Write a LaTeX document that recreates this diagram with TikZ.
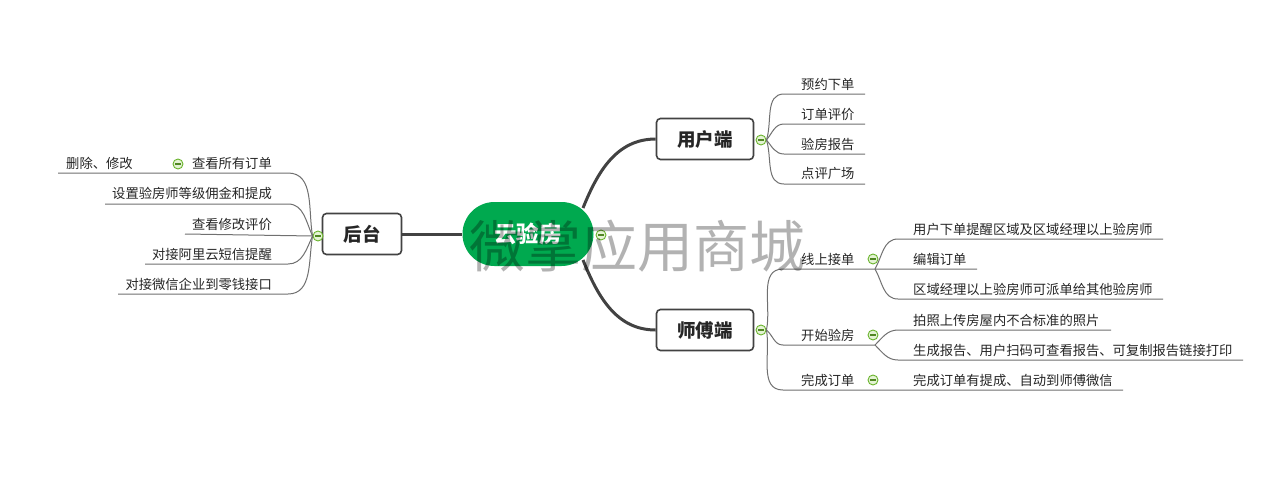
\documentclass[tikz,border=0pt]{standalone}
\usepackage{fontspec}
\setmainfont{Noto Sans CJK SC}
\definecolor{lineg}{HTML}{707070}
\definecolor{thickc}{HTML}{424242}
\definecolor{mgreen}{HTML}{00A94F}
\definecolor{iconr}{HTML}{6AB42D}
\definecolor{iconf}{HTML}{E4F3D4}
\definecolor{txt}{HTML}{262626}
\begin{document}
\begin{tikzpicture}[x=1pt,y=1pt,
  box/.style={draw=thickc, line width=1.6pt, rounded corners=4pt, fill=white,
    minimum height=41pt, inner sep=0pt, text=txt,
    font=\fontsize{18.5}{20}\selectfont\bfseries},
  lbl/.style={font=\fontsize{13.3}{15}\selectfont, text=txt, inner sep=0pt},
  thin/.style={draw=lineg, line width=1pt},
  mainline/.style={draw=thickc, line width=3pt},
  minus/.style={circle, draw=iconr, line width=0.9pt, fill=iconf,
    minimum size=10pt, inner sep=0pt,
    path picture={\draw[iconr!75!black, line width=1.1pt]
      ([xshift=-2.6pt]path picture bounding box.center) -- ([xshift=2.6pt]path picture bounding box.center);}},
  ]
\fill[white] (0,0) rectangle (1269,-493);
\useasboundingbox (0,0) rectangle (1269,-493);

% central and main nodes
\node[fill=mgreen, rounded corners=32pt, minimum width=131pt, minimum height=64pt,
  inner sep=0pt, text=white, font=\fontsize{22.5}{24}\selectfont\bfseries] (root) at (528,-234) {云验房};
\node[box, minimum width=97pt] (yh) at (705,-139) {用户端};
\node[box, minimum width=97pt] (sf) at (705,-330) {师傅端};
\node[box, minimum width=79pt] (ht) at (362,-234) {后台};

\coordinate (rtop) at (583,-208);
\coordinate (rbot) at (583,-260);
\draw[mainline] (rtop) to[out=68,in=180] (yh.west);
\draw[mainline] (rbot) to[out=-68,in=180] (sf.west);
\draw[mainline] (ht.east) -- (root.west);

% ---------- 用户端 branch ----------
\node[minus] (m1) at (761,-140) {};
\coordinate (u1s) at (784,-94);  \coordinate (u1e) at (865,-94);
\coordinate (u2s) at (784,-124); \coordinate (u2e) at (865,-124);
\coordinate (u3s) at (784,-154); \coordinate (u3e) at (865,-154);
\coordinate (u4s) at (784,-184); \coordinate (u4e) at (865,-184);
\draw[thin] (m1.east) to[out=72,in=180] (u1s) -- (u1e);
\draw[thin] (m1.east) to[out=50,in=180] (u2s) -- (u2e);
\draw[thin] (m1.east) to[out=-50,in=180] (u3s) -- (u3e);
\draw[thin] (m1.east) to[out=-72,in=180] (u4s) -- (u4e);
\node[lbl, anchor=west] (u1) at (801,-84) {预约下单};
\node[lbl, anchor=west] (u2) at (801,-114) {订单评价};
\node[lbl, anchor=west] (u3) at (801,-144) {验房报告};
\node[lbl, anchor=west] (u4) at (801,-174) {点评广场};

% ---------- 后台 branch ----------
\node[minus] (m0) at (318,-236) {};
\coordinate (l1e) at (288,-173); \coordinate (l1s) at (58,-173);
\coordinate (l2e) at (288,-204); \coordinate (l2s) at (105,-204);
\coordinate (l3s) at (185,-234);
\coordinate (l4e) at (288,-264); \coordinate (l4s) at (145,-264);
\coordinate (l5e) at (288,-294); \coordinate (l5s) at (118,-294);
\draw[thin] (m0.west) to[out=100,in=0] (l1e) -- (l1s);
\draw[thin] (m0.west) to[out=115,in=0] (l2e) -- (l2s);
\draw[thin] (m0.west) -- (l3s);
\draw[thin] (m0.west) to[out=-115,in=0] (l4e) -- (l4s);
\draw[thin] (m0.west) to[out=-100,in=0] (l5e) -- (l5s);
\node[lbl, anchor=east] (h1) at (272,-163) {查看所有订单};
\node[minus] (mh1) at (178,-164) {};
\node[lbl, anchor=west] (h1a) at (66,-163) {删除、修改};
\node[lbl, anchor=east] (h2) at (272,-193) {设置验房师等级佣金和提成};
\node[lbl, anchor=east] (h3) at (272,-224) {查看修改评价};
\node[lbl, anchor=east] (h4) at (272,-254) {对接阿里云短信提醒};
\node[lbl, anchor=east] (h5) at (272,-284) {对接微信企业到零钱接口};

% ---------- 师傅端 branch ----------
\node[minus] (ms) at (761,-330) {};
\coordinate (s1s) at (783,-269); \coordinate (s1j) at (875,-269); \coordinate (s1e) at (977,-269);
\coordinate (s2s) at (783,-345); \coordinate (s2j) at (875,-345);
\coordinate (s3s) at (783,-390); \coordinate (s3e) at (1123,-390);
\draw[thin] (ms.east) to[out=78,in=180] (s1s) -- (s1e);
\draw[thin] (ms.east) to[out=-40,in=180] (s2s) -- (s2j);
\draw[thin] (ms.east) to[out=-80,in=180] (s3s) -- (s3e);

\coordinate (a1s) at (898,-239); \coordinate (a1e) at (1163,-239);
\coordinate (a3s) at (898,-299); \coordinate (a3e) at (1163,-299);
\draw[thin] (s1j) to[out=60,in=180] (a1s) -- (a1e);
\draw[thin] (s1j) to[out=-60,in=180] (a3s) -- (a3e);
\coordinate (b1s) at (898,-330); \coordinate (b1e) at (1111,-330);
\coordinate (b2s) at (898,-360); \coordinate (b2e) at (1243,-360);
\draw[thin] (s2j) to[out=45,in=180] (b1s) -- (b1e);
\draw[thin] (s2j) to[out=-45,in=180] (b2s) -- (b2e);

\node[lbl, anchor=west] (s1) at (801,-259) {线上接单};
\node[minus] (ms1) at (873,-259) {};
\node[lbl, anchor=west] (s2) at (801,-335) {开始验房};
\node[minus] (ms2) at (873,-335) {};
\node[lbl, anchor=west] (s3) at (801,-380) {完成订单};
\node[minus] (ms3) at (873,-380) {};

\node[lbl, anchor=west] (a1) at (913,-229) {用户下单提醒区域及区域经理以上验房师};
\node[lbl, anchor=west] (a2) at (913,-259) {编辑订单};
\node[lbl, anchor=west] (a3) at (913,-289) {区域经理以上验房师可派单给其他验房师};
\node[lbl, anchor=west] (b1) at (913,-320) {拍照上传房屋内不合标准的照片};
\node[lbl, anchor=west] (b2) at (913,-350) {生成报告、用户扫码可查看报告、可复制报告链接打印};
\node[lbl, anchor=west] (c1) at (913,-380) {完成订单有提成、自动到师傅微信};

\node[minus] (mr) at (601,-235) {};

% watermark
\node[font=\fontsize{56}{60}\selectfont, text=black, text opacity=0.3, inner sep=0pt] (wm) at (637,-246) {微掌应用商城};
\end{tikzpicture}
\end{document}
